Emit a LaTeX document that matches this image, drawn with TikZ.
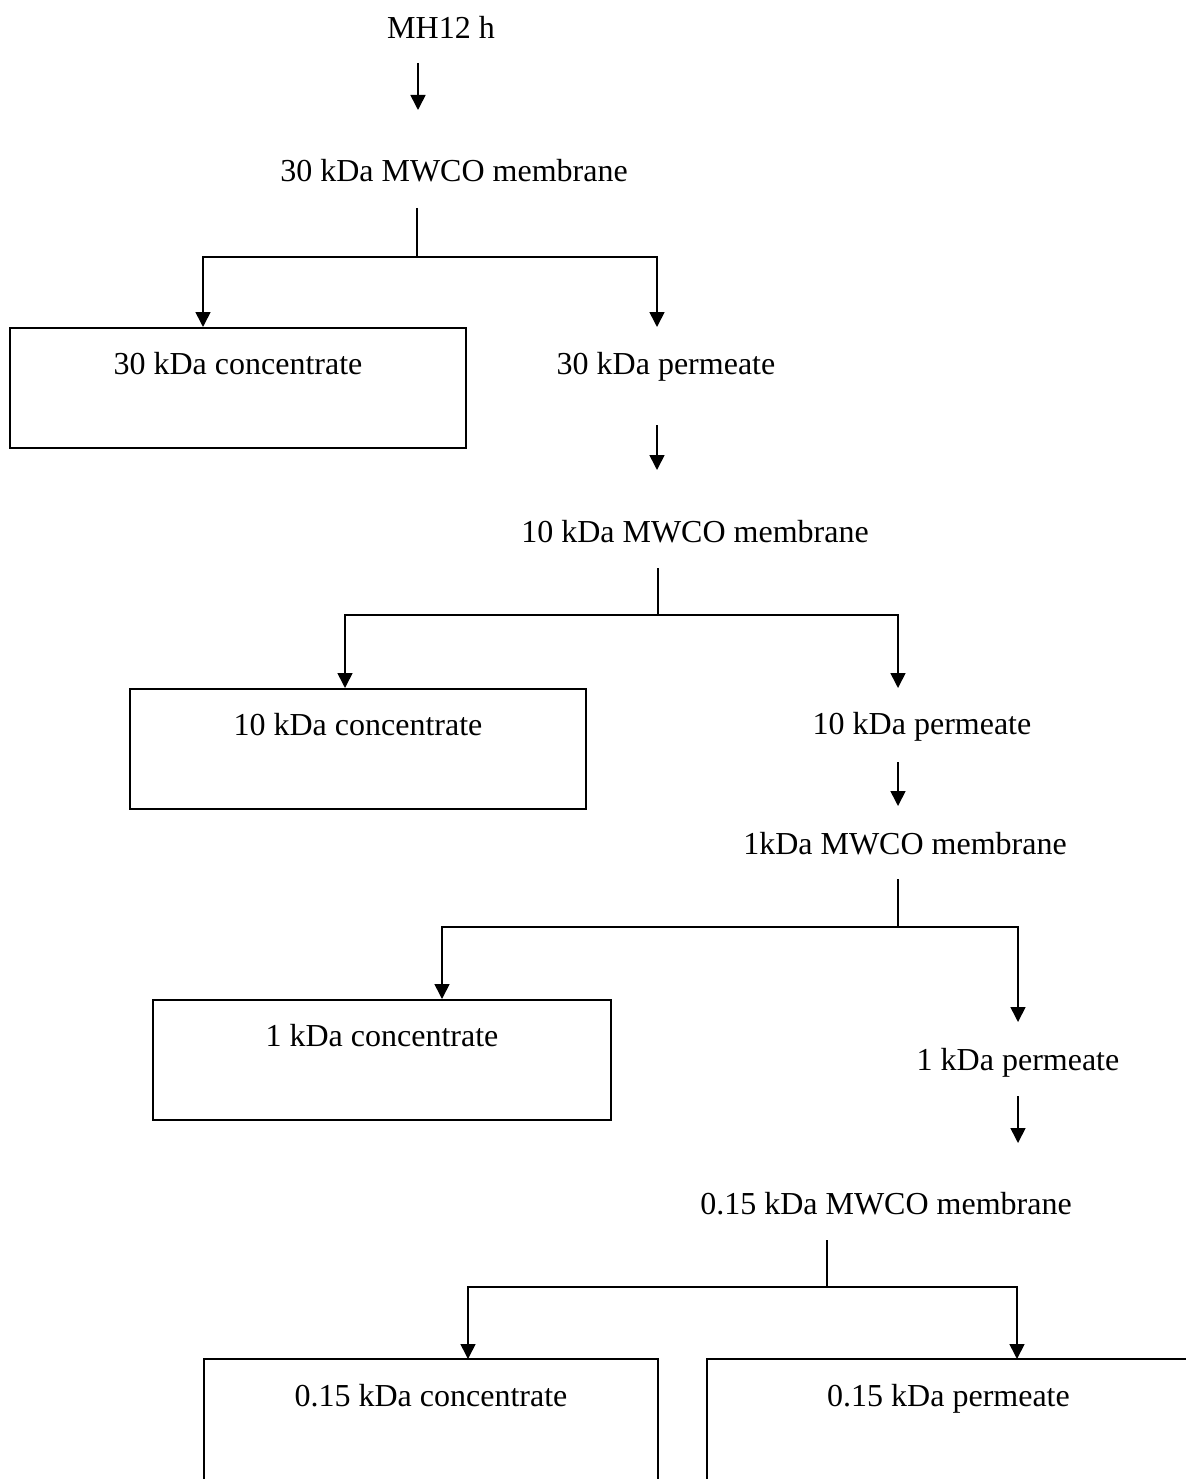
\documentclass[tikz,border=0pt]{standalone}
\usepackage{fontspec}
\setmainfont{Liberation Serif}
\usetikzlibrary{arrows.meta}
\tikzset{
  flow/.style={line width=1.6pt, -{Triangle[length=15pt,width=15pt]}},
  stem/.style={line width=1.6pt},
  lbl/.style={anchor=base, inner sep=0pt},
  fracbox/.style={draw, line width=1.6pt, anchor=north, inner ysep=0pt, text height=47pt, text depth=73pt},
  openbox/.style={anchor=north, inner ysep=0pt, text height=47pt, text depth=140pt}
}
\begin{document}
\begin{tikzpicture}[x=1pt, y=-1pt, font=\fontsize{32}{38}\selectfont]
	\useasboundingbox (0,0) rectangle (1185,1479);
	% stage 0
	\node[lbl] (mh) at (441,39) {MH12 h};
	\coordinate (in0) at (418,63);
	\coordinate (in1) at (418,110);
	\draw[flow] (in0) -- (in1);
	% 30 kDa
	\node[lbl] (m30) at (454,182) {30 kDa MWCO membrane};
	\node[fracbox, minimum width=456] (c30) at (238,327) {30 kDa concentrate};
	\node[lbl] (p30) at (666,374) {30 kDa permeate};
	\coordinate (st30) at (417,208);
	\coordinate (hub30) at (417,257);
	\coordinate (tp30) at (657,327);
	\draw[stem] (st30) -- (hub30);
	\draw[flow] (hub30) -| ([xshift=-35pt]c30.north);
	\draw[flow] (hub30) -| (tp30);
	\coordinate (ar30) at (657,425);
	\coordinate (ar30e) at (657,470);
	\draw[flow] (ar30) -- (ar30e);
	% 10 kDa
	\node[lbl] (m10) at (695,542) {10 kDa MWCO membrane};
	\node[fracbox, minimum width=456] (c10) at (358,688) {10 kDa concentrate};
	\node[lbl] (p10) at (922,734) {10 kDa permeate};
	\coordinate (st10) at (658,568);
	\coordinate (hub10) at (658,615);
	\coordinate (tp10) at (898,688);
	\draw[stem] (st10) -- (hub10);
	\draw[flow] (hub10) -| ([xshift=-13pt]c10.north);
	\draw[flow] (hub10) -| (tp10);
	\coordinate (ar10) at (898,762);
	\coordinate (ar10e) at (898,806);
	\draw[flow] (ar10) -- (ar10e);
	% 1 kDa
	\node[lbl] (m1) at (905,854) {1kDa MWCO membrane};
	\node[fracbox, minimum width=458] (c1) at (382,999) {1 kDa concentrate};
	\node[lbl] (p1) at (1018,1070) {1 kDa permeate};
	\coordinate (st1) at (898,879);
	\coordinate (hub1) at (898,927);
	\coordinate (tp1) at (1018,1022);
	\draw[stem] (st1) -- (hub1);
	\draw[flow] (hub1) -| ([xshift=60pt]c1.north);
	\draw[flow] (hub1) -| (tp1);
	\coordinate (ar1) at (1018,1096);
	\coordinate (ar1e) at (1018,1143);
	\draw[flow] (ar1) -- (ar1e);
	% 0.15 kDa
	\node[lbl] (m015) at (886,1214) {0.15 kDa MWCO membrane};
	\node[openbox, minimum width=454] (c015) at (431,1359) {0.15 kDa concentrate};
	\node[openbox, minimum width=483] (p015) at (948.5,1359) {0.15 kDa permeate};
	\draw[stem] (c015.south west) -- (c015.north west) -- (c015.north east) -- (c015.south east);
	\draw[stem] (p015.south west) -- (p015.north west) -- (p015.north east);
	\coordinate (st015) at (827,1240);
	\coordinate (hub015) at (827,1287);
	\draw[stem] (st015) -- (hub015);
	\draw[flow] (hub015) -| ([xshift=37pt]c015.north);
	\draw[flow] (hub015) -| ([xshift=68.5pt]p015.north);
\end{tikzpicture}
\end{document}
